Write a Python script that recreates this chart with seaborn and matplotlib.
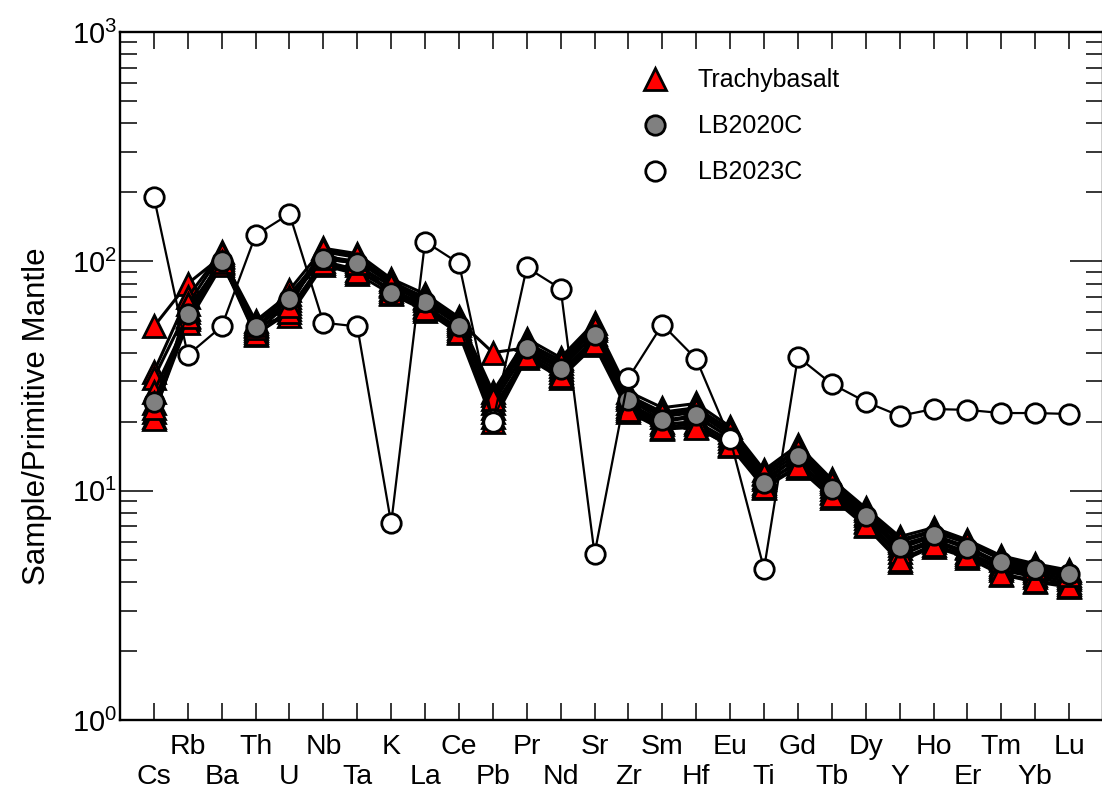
import matplotlib
matplotlib.use("Agg")
import matplotlib.pyplot as plt
from matplotlib.lines import Line2D
from matplotlib.ticker import LogLocator, LogFormatterSciNotation, NullFormatter
import seaborn as sns

# Elements in spider-diagram order
elements = ["Cs", "Rb", "Ba", "Th", "U", "Nb", "Ta", "K", "La", "Ce", "Pb", "Pr",
            "Nd", "Sr", "Zr", "Sm", "Hf", "Eu", "Ti", "Gd", "Tb", "Dy", "Y", "Ho",
            "Er", "Tm", "Yb", "Lu"]

# Trachybasalt samples (primitive-mantle normalised)
tb_01 = [52, 80, 105, 55, 72, 105, 100, 80, 70, 55, 40, 42, 35, 50, 25, 21, 22, 17.5,
         11.5, 14.5, 10.5, 7.8, 5.8, 6.4, 5.7, 4.8, 4.5, 4.2]
tb_02 = [33, 70, 110, 50, 75, 114, 108, 84, 72, 57, 27, 46, 38, 54, 27, 23, 24, 19,
         12.3, 15.8, 11.2, 8.4, 6.3, 6.9, 6.1, 5.2, 4.8, 4.5]
tb_03 = [31, 62, 100, 47.5, 62, 100, 92, 74, 63, 50, 22, 39, 32, 45, 23, 19, 19.5, 16,
         10.8, 13.2, 9.8, 7.3, 5.2, 6.0, 5.3, 4.5, 4.2, 3.9]
tb_04 = [27, 56, 98, 52, 58, 96, 88, 72, 61, 48.5, 20, 38, 31, 43, 22, 18.5, 19, 15.6,
         10.3, 12.6, 9.3, 7.0, 4.9, 5.7, 5.1, 4.3, 4.0, 3.8]
tb_05 = [24, 58, 104, 49, 66, 108, 96, 78, 66, 53, 24, 41, 34, 48, 24, 20, 21, 17,
         11.2, 14.0, 10.2, 7.6, 5.6, 6.3, 5.6, 4.7, 4.4, 4.1]
tb_06 = [22, 54, 96, 54, 70, 110, 104, 82, 69, 56, 26, 44, 37, 52, 26, 22, 23, 18.5,
         12.0, 15.2, 11.0, 8.2, 6.1, 6.7, 6.0, 5.1, 4.7, 4.4]
tb_07 = [21, 60, 102, 48, 60, 98, 90, 76, 64, 51, 21, 40, 33, 46, 23.5, 19.5, 20, 16.5,
         10.6, 13.5, 9.9, 7.4, 5.4, 6.1, 5.4, 4.6, 4.3, 4.0]
tb_08 = [20.5, 65, 108, 51, 68, 103, 98, 73, 62, 49, 23, 38.5, 31.5, 44, 22.5, 18.8, 18.8,
         15.8, 10.4, 12.8, 9.5, 7.1, 5.0, 5.8, 5.2, 4.35, 4.05, 3.85]
tb_09 = [23, 57, 99, 53, 64, 112, 106, 79, 68, 54, 25, 43, 36, 51, 25.5, 21.5, 22.5, 18,
         11.8, 15.0, 10.8, 8.0, 6.0, 6.6, 5.9, 5.0, 4.6, 4.3]
trachybasalt = [tb_01, tb_02, tb_03, tb_04, tb_05, tb_06, tb_07, tb_08, tb_09]

lb2020c = [24.4, 58.8, 100, 51.9, 68.6, 102, 98, 73, 66.7, 52.3, 20.5, 41.8, 34, 47.8,
           24.9, 20.3, 21.4, 17, 10.8, 14.1, 10.2, 7.78, 5.66, 6.41, 5.61, 4.87, 4.56, 4.33]
lb2023c = [191, 39, 52, 130, 161, 54, 52, 7.2, 122, 98, 20, 94, 76, 5.3, 31, 53, 37.5,
           16.8, 4.56, 38.3, 29.2, 24.4, 21.2, 22.7, 22.5, 21.8, 21.8, 21.6]

legend_labels = ["Trachybasalt", "LB2020C", "LB2023C"]

sns.set_style("ticks")
plt.rcParams["font.family"] = ["Liberation Sans", "DejaVu Sans"]
plt.rcParams["mathtext.fontset"] = "custom"
plt.rcParams["mathtext.rm"] = "Liberation Sans"
plt.rcParams["mathtext.it"] = "Liberation Sans:italic"
for key in ["text.color", "axes.labelcolor", "xtick.color", "ytick.color",
            "axes.edgecolor"]:
    plt.rcParams[key] = "black"

fig = plt.figure(figsize=(11.02, 7.90), dpi=100)
ax = fig.add_axes([120 / 1102, 1 - 720 / 790, 983 / 1102, 688 / 790])

pos = list(range(len(elements)))

TRI = dict(marker="^", markersize=15.5, markerfacecolor="red",
           markeredgecolor="black", markeredgewidth=2)
GREY = dict(marker="o", markersize=14, markerfacecolor="#808080",
            markeredgecolor="black", markeredgewidth=2)
WHITE = dict(marker="o", markersize=14, markerfacecolor="white",
             markeredgecolor="black", markeredgewidth=2)

for sample in trachybasalt:
    sns.lineplot(x=pos, y=sample, ax=ax, color="black", linewidth=2.2,
                 estimator=None, sort=False, legend=False, **TRI)

sns.lineplot(x=pos, y=lb2020c, ax=ax, color="black", linewidth=1.6,
             estimator=None, sort=False, legend=False, **GREY)

sns.lineplot(x=pos, y=lb2023c, ax=ax, color="black", linewidth=1.6,
             estimator=None, sort=False, legend=False, **WHITE)

ax.set_yscale("log")
ax.set_ylim(1, 1000)
ax.set_xlim(-1, len(elements))

# Two staggered rows of element labels
xlabels = [name if i % 2 else "\n" + name for i, name in enumerate(elements)]
ax.set_xticks(pos)
ax.set_xticklabels(xlabels, fontsize=20.5, linespacing=1.2)
ax.tick_params(axis="x", which="major", direction="in", length=12, width=1.1,
               top=True, bottom=True, pad=10)

ax.yaxis.set_major_locator(LogLocator(base=10, numticks=10))
ax.yaxis.set_minor_locator(LogLocator(base=10, subs=range(2, 10), numticks=20))
ax.yaxis.set_major_formatter(LogFormatterSciNotation())
ax.yaxis.set_minor_formatter(NullFormatter())
ax.tick_params(axis="y", which="major", direction="in", length=24, width=1.1,
               left=True, right=True, labelsize=21, pad=2)
ax.tick_params(axis="y", which="minor", direction="in", length=12, width=1.1,
               left=True, right=True)

for side in ["left", "right", "top", "bottom"]:
    ax.spines[side].set_visible(True)
    ax.spines[side].set_linewidth(1.7)

ax.set_ylabel("Sample/Primitive Mantle", fontsize=22.5)
ax.yaxis.set_label_coords(-0.069, 0.442)
ax.set_xlabel("")

handles = [
    Line2D([], [], linestyle="none", **TRI),
    Line2D([], [], linestyle="none", **GREY),
    Line2D([], [], linestyle="none", **WHITE),
]
ax.legend(handles, legend_labels, loc="upper left", bbox_to_anchor=(0.5315, 0.947),
          frameon=False, fontsize=18, handlelength=1.0, handletextpad=1.22,
          labelspacing=0.88, borderaxespad=0, borderpad=0)

fig.savefig("out.png", dpi=100, facecolor="white")
